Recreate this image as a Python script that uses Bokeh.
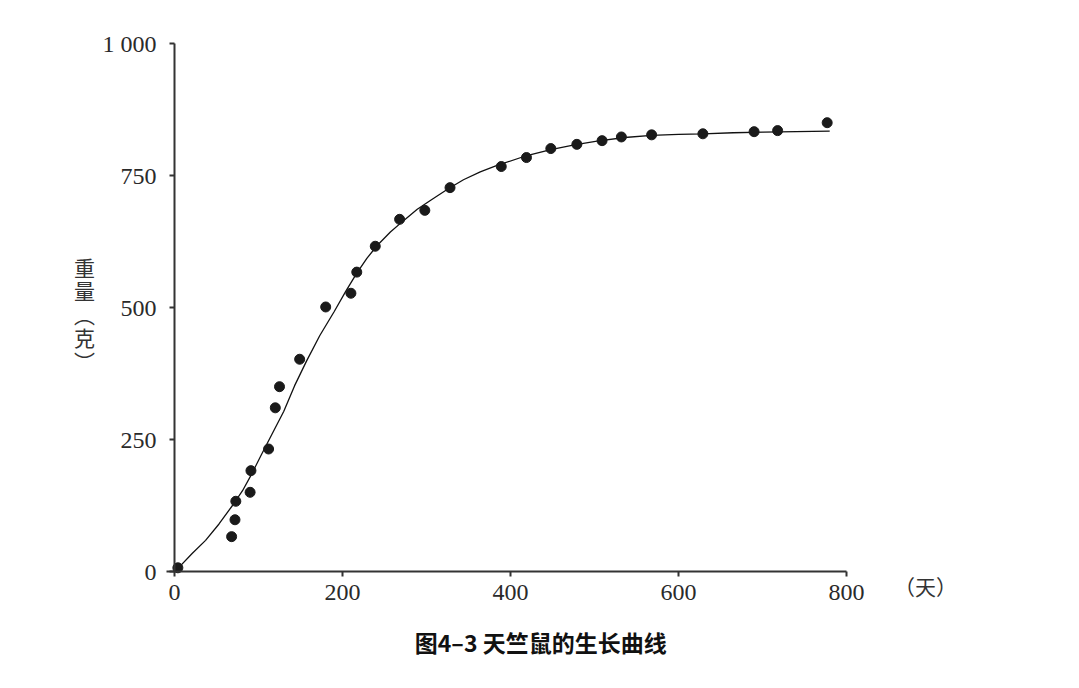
from bokeh.plotting import figure
from bokeh.models import Range1d, FixedTicker, Label
from bokeh.embed import file_html
from bokeh.resources import INLINE

# Observed data points (days, weight in grams)
days = [4, 68, 72, 73, 90, 91, 112, 120, 125, 149, 180, 210, 217, 239, 268,
        298, 328, 389, 419, 448, 479, 509, 532, 568, 629, 690, 718, 777]
weight = [7, 66, 98, 133, 150, 191, 232, 310, 350, 402, 501, 527, 567, 616, 667,
          684, 727, 767, 784, 801, 809, 816, 823, 827, 829, 833, 835, 850]

# Fitted growth curve
curve_x = [3, 21, 37, 53, 69, 81, 92, 104, 116, 130, 143, 157, 173, 190, 204,
           217, 229, 241, 257, 273, 289, 305, 325, 344, 364, 384, 416, 448,
           476, 503, 536, 568, 600, 629, 665, 701, 740, 780]
curve_y = [4, 34, 59, 90, 125, 153, 185, 223, 260, 303, 352, 398, 447, 492, 531,
           565, 593, 617, 643, 665, 686, 703, 724, 742, 757, 769, 786, 799,
           808, 815, 822, 826, 828, 829, 831, 832, 833, 834]

x_ticks = [0, 200, 400, 600, 800]
y_ticks = [0, 250, 500, 750, 1000]
y_tick_labels = {0: "0", 250: "250", 500: "500", 750: "750", 1000: "1 000"}

title_text = "图4–3 天竺鼠的生长曲线"
y_label_text = "重\n量\n︵\n克\n︶"
x_unit_text = "（天）"

W, H = 1075, 684
# frame covers the whole canvas; data 0..800 -> px 174..846, 0..1000 -> py 571..43
sx = 672 / 800
sy = 528 / 1000
x0_px, y0_px = 174, 571
p = figure(width=W, height=H, output_backend="svg", toolbar_location=None,
           x_range=Range1d(-x0_px / sx, (W - x0_px) / sx),
           y_range=Range1d((y0_px - H) / sy, y0_px / sy),
           min_border=0)
p.outline_line_color = None
p.grid.visible = False
p.background_fill_color = "white"
p.border_fill_color = "white"

for ax in (p.xaxis[0], p.yaxis[0]):
    ax.axis_line_color = "#333333"
    ax.axis_line_width = 2
    ax.major_tick_line_color = "#333333"
    ax.major_tick_line_width = 2
    ax.major_tick_out = 5
    ax.major_tick_in = 0
    ax.minor_tick_line_color = None
    ax.major_label_text_font = "Liberation Serif"
    ax.major_label_text_font_size = "24px"
    ax.major_label_text_color = "#2a2a2a"
    ax.fixed_location = 0

p.xaxis.bounds = (-10, 800)
p.yaxis.bounds = (0, 1000)
p.xaxis.ticker = FixedTicker(ticks=x_ticks)
p.yaxis.ticker = FixedTicker(ticks=y_ticks)
p.yaxis.major_label_overrides = y_tick_labels
p.xaxis.major_label_standoff = 8
p.yaxis.major_label_standoff = 13

p.line(curve_x, curve_y, line_color="#111111", line_width=1.3)
p.scatter(days, weight, size=10, fill_color="#1a1a1a", line_color="#1a1a1a")

p.add_layout(Label(x=-107, y=488, text=y_label_text, text_font="Noto Sans CJK SC",
                   text_font_size="21px", text_color="#333333",
                   text_align="center", text_baseline="middle",
                   text_line_height=0.78))
p.add_layout(Label(x=894, y=-27, text=x_unit_text, text_font="Noto Sans CJK SC",
                   text_font_size="21px", text_color="#333333",
                   text_align="center", text_baseline="middle"))
p.add_layout(Label(x=436, y=-133, text=title_text, text_font="Noto Sans CJK SC",
                   text_font_size="23px", text_font_style="bold",
                   text_color="#111111",
                   text_align="center", text_baseline="middle"))

open("out.html", "w").write(file_html(p, INLINE))
